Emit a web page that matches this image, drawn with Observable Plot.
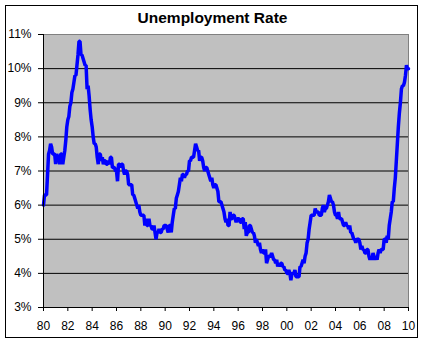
<!DOCTYPE html>
<html>
<head>
<meta charset="utf-8">
<script src="https://cdn.jsdelivr.net/npm/d3@7"></script>
<script src="https://cdn.jsdelivr.net/npm/@observablehq/plot@0.6"></script>
<style>
  html, body { margin: 0; padding: 0; background: #fff; }
  #wrap { position: relative; width: 424px; height: 343px; overflow: hidden; background: #fff; }
  #border { position: absolute; left: 5px; top: 5px; width: 413px; height: 333px; box-sizing: border-box; border: 1px solid #000; }
  #title { position: absolute; left: 0; width: 425px; top: 9px; text-align: center;
           font-family: "Liberation Sans", Arial, sans-serif; font-weight: bold; font-size: 15.5px; line-height: 18px; color: #000; }
  #chart { position: absolute; left: 0; top: 0; }
</style>
</head>
<body>
<div id="wrap">
  <div id="border"></div>
  <div id="title">Unemployment Rate</div>
  <div id="chart"></div>
</div>
<script>
// Monthly unemployment rate (%), first point = Dec 1979, then Jan 1980 .. Dec 2009
const startYear = 1980;
const rates1980s = [
  6.0,
  6.3, 6.3, 6.3, 6.9, 7.5, 7.6, 7.8, 7.7, 7.5, 7.5, 7.5, 7.2,
  7.5, 7.4, 7.4, 7.2, 7.5, 7.5, 7.2, 7.4, 7.6, 7.9, 8.3, 8.5,
  8.6, 8.9, 9.0, 9.3, 9.4, 9.6, 9.8, 9.8, 10.1, 10.4, 10.8, 10.8,
  10.4, 10.4, 10.3, 10.2, 10.1, 10.1, 9.4, 9.5, 9.2, 8.8, 8.5, 8.3,
  8.0, 7.8, 7.8, 7.7, 7.4, 7.2, 7.5, 7.5, 7.3, 7.4, 7.2, 7.3,
  7.3, 7.2, 7.2, 7.3, 7.2, 7.4, 7.4, 7.1, 7.1, 7.1, 7.0, 7.0,
  6.7, 7.2, 7.2, 7.1, 7.2, 7.2, 7.0, 6.9, 7.0, 7.0, 6.9, 6.6,
  6.6, 6.6, 6.6, 6.3, 6.3, 6.2, 6.1, 6.0, 5.9, 6.0, 5.8, 5.7,
  5.7, 5.7, 5.7, 5.4, 5.6, 5.4, 5.4, 5.6, 5.4, 5.4, 5.3, 5.3,
  5.4, 5.2, 5.0, 5.2, 5.2, 5.3, 5.2, 5.2, 5.3, 5.3, 5.4, 5.4
];
const rates1990s = [
  5.4, 5.3, 5.2, 5.4, 5.4, 5.2, 5.5, 5.7, 5.9, 5.9, 6.2, 6.3,
  6.4, 6.6, 6.8, 6.7, 6.9, 6.9, 6.8, 6.9, 6.9, 7.0, 7.0, 7.3,
  7.3, 7.4, 7.4, 7.4, 7.6, 7.8, 7.7, 7.6, 7.6, 7.3, 7.4, 7.4,
  7.3, 7.1, 7.0, 7.1, 7.1, 7.0, 6.9, 6.8, 6.7, 6.8, 6.6, 6.5,
  6.6, 6.6, 6.5, 6.4, 6.1, 6.1, 6.1, 6.0, 5.9, 5.8, 5.6, 5.5,
  5.6, 5.4, 5.4, 5.8, 5.6, 5.6, 5.7, 5.7, 5.6, 5.5, 5.6, 5.6,
  5.6, 5.5, 5.5, 5.6, 5.6, 5.3, 5.5, 5.1, 5.2, 5.2, 5.4, 5.4,
  5.3, 5.2, 5.2, 5.1, 4.9, 5.0, 4.9, 4.8, 4.9, 4.7, 4.6, 4.7,
  4.6, 4.6, 4.7, 4.3, 4.4, 4.5, 4.5, 4.5, 4.6, 4.5, 4.4, 4.4,
  4.3, 4.4, 4.2, 4.3, 4.2, 4.3, 4.3, 4.2, 4.2, 4.1, 4.1, 4.0
];
const rates2000s = [
  4.0, 4.1, 4.0, 3.8, 4.0, 4.0, 4.0, 4.1, 3.9, 3.9, 3.9, 3.9,
  4.2, 4.2, 4.3, 4.4, 4.3, 4.5, 4.6, 4.9, 5.0, 5.3, 5.5, 5.7,
  5.7, 5.7, 5.7, 5.9, 5.8, 5.8, 5.8, 5.7, 5.7, 5.7, 5.9, 6.0,
  5.8, 5.9, 5.9, 6.0, 6.1, 6.3, 6.2, 6.1, 6.1, 6.0, 5.8, 5.7,
  5.7, 5.6, 5.8, 5.6, 5.6, 5.6, 5.5, 5.4, 5.4, 5.5, 5.4, 5.4,
  5.3, 5.4, 5.2, 5.2, 5.1, 5.0, 5.0, 4.9, 5.0, 5.0, 5.0, 4.9,
  4.7, 4.8, 4.7, 4.7, 4.6, 4.6, 4.7, 4.7, 4.5, 4.4, 4.5, 4.4,
  4.6, 4.5, 4.4, 4.5, 4.4, 4.6, 4.7, 4.6, 4.7, 4.7, 4.7, 5.0,
  5.0, 4.9, 5.1, 5.0, 5.4, 5.6, 5.8, 6.1, 6.1, 6.5, 6.8, 7.3,
  7.8, 8.3, 8.7, 9.0, 9.4, 9.5, 9.5, 9.6, 9.8, 10.1, 10.0, 10.0
];
const xTicks = [1980, 1982, 1984, 1986, 1988, 1990, 1992, 1994, 1996, 1998, 2000, 2002, 2004, 2006, 2008, 2010];
const yTicks = [3, 4, 5, 6, 7, 8, 9, 10, 11];
const gridLines = [4, 5, 6, 7, 8, 9, 10];
const titleText = "Unemployment Rate";

document.getElementById("title").textContent = titleText;

const rates = [...rates1980s, ...rates1990s, ...rates2000s];
const data = rates.map((r, i) => ({t: startYear + i / 12, rate: r}));

const chart = Plot.plot({
  width: 424,
  height: 343,
  marginLeft: 43,
  marginRight: 16,
  marginTop: 34,
  marginBottom: 36,
  style: {fontFamily: "'Liberation Sans', Arial, sans-serif", fontSize: "12px", color: "#000", background: "transparent", overflow: "visible"},
  x: {domain: [1980, 2010]},
  y: {domain: [3, 11]},
  marks: [
    Plot.frame({fill: "#c0c0c0", stroke: "#808080"}),
    Plot.ruleY(gridLines, {stroke: "#000", strokeWidth: 1}),
    Plot.line(data, {x: "t", y: "rate", stroke: "#0000ff", strokeWidth: 3.5, strokeLinejoin: "miter", curve: "linear"}),
    Plot.ruleX([1980], {stroke: "#000"}),
    Plot.ruleY([3], {stroke: "#000"}),
    Plot.axisY({ticks: yTicks, tickFormat: d => d + "%", tickSize: 5, tickPadding: 7, label: null, fontSize: 12}),
    Plot.axisX({ticks: xTicks, tickFormat: d => String(d % 100).padStart(2, "0"), tickSize: 4, tickPadding: 10, label: null, fontSize: 12})
  ]
});
document.getElementById("chart").appendChild(chart);
</script>
</body>
</html>
